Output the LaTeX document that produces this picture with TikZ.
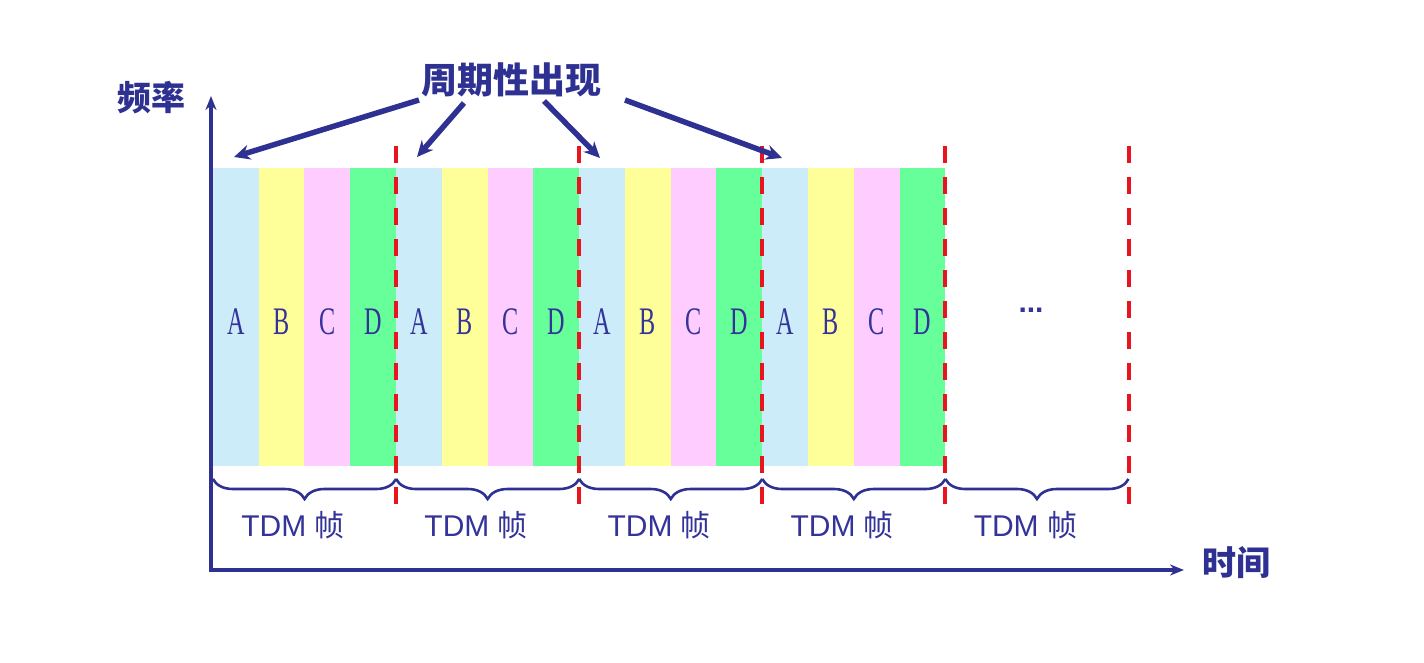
\documentclass[tikz,border=0pt]{standalone}
\usepackage{fontspec}
\setmainfont{Liberation Serif}
\setsansfont{Liberation Sans}
\newfontfamily\cjk{Noto Sans CJK SC}
\usetikzlibrary{arrows.meta,decorations.pathreplacing}
\definecolor{axisblue}{RGB}{46,49,146}
\definecolor{txtblue}{RGB}{51,51,153}
\definecolor{slotA}{RGB}{204,236,250}
\definecolor{slotB}{RGB}{255,255,153}
\definecolor{slotC}{RGB}{255,204,255}
\definecolor{slotD}{RGB}{102,255,153}
\definecolor{dashred}{RGB}{232,20,30}
\tikzset{
  slotbox/.style={draw=none,inner sep=0pt,minimum width=45.9pt,minimum height=298pt},
  slotlbl/.style={text=txtblue,inner sep=0pt,font=\fontsize{39}{40}\selectfont,xscale=0.62},
  framelbl/.style={text=txtblue,inner sep=0pt,font=\sffamily\fontsize{30}{32}\selectfont},
  bigcjk/.style={text=axisblue,inner sep=0pt,font=\cjk\bfseries\fontsize{34}{36}\selectfont},
  divider/.style={dashred,line width=4pt,dash pattern=on 17pt off 14pt},
  axisline/.style={axisblue,line width=4pt,-{Stealth[length=14pt,width=11pt]}},
  callout/.style={axisblue,line width=5.5pt,-{Stealth[length=16pt,width=15pt]}},
  framebrace/.style={axisblue,line width=2.6pt,decorate,decoration={brace,mirror,amplitude=20pt}}
}
\begin{document}
\begin{tikzpicture}[x=1pt,y=-1pt]
\useasboundingbox (0,0) rectangle (1424,662);
% slots
\foreach \f in {0,1,2,3}{
  \foreach \s/\c/\l in {0/slotA/A,1/slotB/B,2/slotC/C,3/slotD/D}{
    \pgfmathsetmacro{\xc}{213+183.1*\f+45.775*\s+22.89}
    \node[slotbox,fill=\c] (s\f\l) at (\xc,317) {};
    \node[slotlbl] (t\f\l) at (\xc,322) {\l};
  }
}
\node[text=txtblue,inner sep=0pt,font=\sffamily\bfseries\fontsize{30}{32}\selectfont] (dots) at (1031,310) {...};
% dividers
\foreach \i in {1,2,3,4,5}{
  \pgfmathsetmacro{\xd}{213+183.1*\i}
  \coordinate (dt\i) at (\xd,146);
  \coordinate (db\i) at (\xd,515);
  \draw[divider] (dt\i) -- (db\i);
}
% braces and labels
\coordinate (b0) at (213,479);
\foreach \i in {1,2,3,4,5}{
  \pgfmathsetmacro{\xb}{213+183.1*\i}
  \coordinate (b\i) at (\xb,479);
}
\foreach \i [evaluate=\i as \j using int(\i+1)] in {0,1,2,3,4}{
  \draw[framebrace] (b\i) -- (b\j);
  \pgfmathsetmacro{\xl}{213+183.1*\i+80}
  \node[framelbl] (f\i) at (\xl,525) {TDM {\cjk 帧}};
}
% axes
\coordinate (origin) at (211,570);
\coordinate (ytip) at (211,96);
\coordinate (xtip) at (1184,567);
\draw[axisline] (origin) -- (ytip);
\draw[axisline] ([xshift=-2pt]origin) -- (xtip |- origin);
\node[bigcjk] (ylab) at (151,98) {频率};
\node[bigcjk] (xlab) at (1236,563) {时间};
% callout
\node[bigcjk,font=\cjk\bfseries\fontsize{36}{38}\selectfont] (period) at (511,80) {周期性出现};
\coordinate (c1s) at (419,100);
\coordinate (c2s) at (464,103);
\coordinate (c3s) at (544,101);
\coordinate (c4s) at (625,100);
\coordinate (c1e) at (234,157);
\coordinate (c2e) at (417,157);
\coordinate (c3e) at (600,158);
\coordinate (c4e) at (782,158);
\draw[callout] (c1s) -- (c1e);
\draw[callout] (c2s) -- (c2e);
\draw[callout] (c3s) -- (c3e);
\draw[callout] (c4s) -- (c4e);
\end{tikzpicture}
\end{document}
